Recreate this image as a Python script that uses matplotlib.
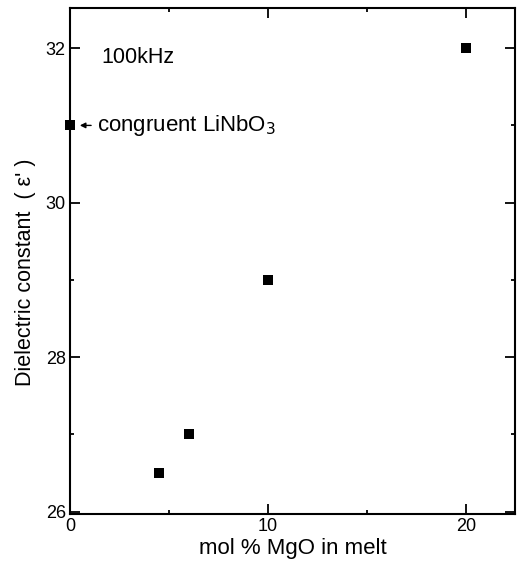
import matplotlib
matplotlib.use("Agg")
import matplotlib.pyplot as plt
from matplotlib.ticker import MultipleLocator

# data
mgo_mol = [0, 4.5, 6, 10, 20]
dielectric = [31, 26.5, 27, 29, 32]

plt.rcParams['font.family'] = ['Liberation Sans', 'DejaVu Sans']

fig = plt.figure(figsize=(5.22, 5.62), dpi=100)
ax = fig.add_axes([0.134, 0.0854, 0.853, 0.9004])

ax.plot(mgo_mol, dielectric, 's', color='black', markersize=7, markeredgewidth=0, clip_on=False)

ax.set_xlim(0, 22.5)
ax.set_ylim(25.97, 32.52)
ax.set_xticks([0, 10, 20])
ax.set_yticks([26, 28, 30, 32])
ax.xaxis.set_minor_locator(MultipleLocator(5))
ax.yaxis.set_minor_locator(MultipleLocator(1))
ax.tick_params(which='both', direction='in', top=True, right=True, labelsize=13, width=1.3)
ax.tick_params(which='major', length=7, pad=3)
ax.tick_params(which='minor', length=3)
for s in ax.spines.values():
    s.set_linewidth(1.5)

ax.set_xlabel('mol % MgO in melt', fontsize=16, labelpad=2)
ax.set_ylabel("Dielectric constant  ( \u03b5' )", fontsize=15.5)
ax.yaxis.set_label_coords(-0.076, 0.478)

ax.text(1.6, 31.88, '100kHz', fontsize=15.5, va='center', ha='left')
ax.annotate('congruent LiNbO$_3$', xy=(0.5, 31), xytext=(1.35, 31),
            fontsize=16, va='center', ha='left',
            arrowprops=dict(arrowstyle='-|>', color='black', lw=1, mutation_scale=8, shrinkA=2, shrinkB=0))

fig.savefig('out.png', dpi=100)
